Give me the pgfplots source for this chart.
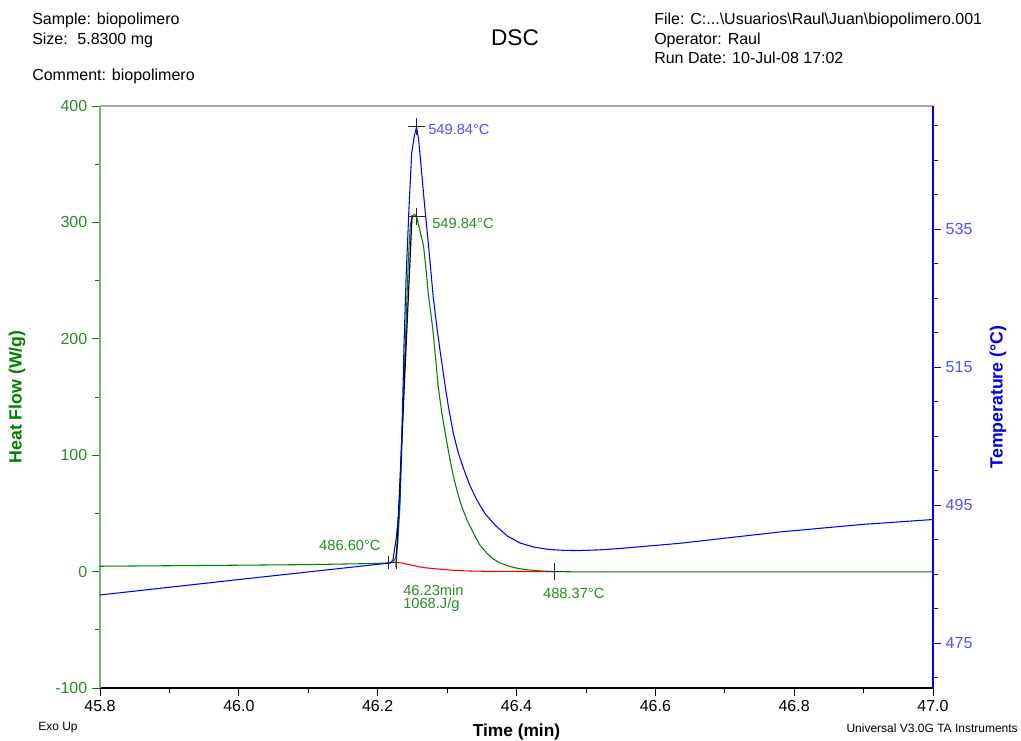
\documentclass[border=0pt]{standalone}
\usepackage{pgfplots}
\pgfplotsset{compat=1.18}
\usepackage{fontspec}
\setmainfont{Liberation Sans}
\definecolor{hfgreen}{RGB}{0,128,0}
\definecolor{hftext}{RGB}{40,140,40}
\definecolor{axgreen}{RGB}{120,180,120}
\definecolor{tblue}{RGB}{0,0,255}
\definecolor{tblight}{RGB}{80,80,255}
\definecolor{axblue}{RGB}{0,0,225}
\definecolor{crossc}{RGB}{40,40,40}
\newcommand{\fs}[1]{\fontsize{#1}{1.2\dimexpr#1pt\relax}\selectfont}
\begin{document}
\begin{tikzpicture}
\useasboundingbox (0,0) rectangle (765.75pt,555pt);
% header
\node[anchor=west, inner sep=0pt, font=\fs{12}] at (24pt,540pt) {Sample: biopolimero};
\node[anchor=west, inner sep=0pt, font=\fs{12}] at (24pt,525pt) {Size:\hspace{0.6em}5.8300 mg};
\node[anchor=west, inner sep=0pt, font=\fs{12}] at (24pt,498pt) {Comment: biopolimero};
\node[anchor=center, inner sep=0pt, font=\fs{17}] at (386.25pt,526.5pt) {DSC};
\node[anchor=west, inner sep=0pt, font=\fs{12}] at (490.5pt,540pt) {File: C:...\textbackslash Usuarios\textbackslash Raul\textbackslash Juan\textbackslash biopolimero.001};
\node[anchor=west, inner sep=0pt, font=\fs{12}] at (490.5pt,525pt) {Operator: Raul};
\node[anchor=west, inner sep=0pt, font=\fs{12}] at (490.5pt,511.5pt) {Run Date: 10-Jul-08 17:02};
% footer
\node[anchor=west, inner sep=0pt, font=\fs{9}] at (28.5pt,9pt) {Exo Up};
\node[anchor=east, inner sep=0pt, font=\fs{9}] at (763.5pt,9pt) {Universal V3.0G TA Instruments};

\begin{axis}[
  at={(75pt,39pt)}, anchor=south west,
  width=624.75pt, height=436.5pt, scale only axis,
  xmin=45.8, xmax=47.0, ymin=-100, ymax=400,
  axis x line*=bottom, axis y line*=left,
  tick align=outside,
  major tick length=6pt, minor tick length=3.5pt,
  xtick={45.8,46.0,46.2,46.4,46.6,46.8,47.0},
  minor xtick={45.9,46.1,46.3,46.5,46.7,46.9},
  ytick={-100,0,100,200,300,400},
  minor ytick={-50,50,150,250,350},
  x axis line style={black, line width=0.8pt},
  y axis line style={draw=axgreen, line width=1pt},
  xtick style={black, line width=0.6pt},
  ytick style={hfgreen, line width=0.6pt},
  /pgf/number format/assume math mode=true,
  xticklabel style={black, font=\fs{12}, /pgf/number format/.cd, fixed, fixed zerofill, precision=1},
  yticklabel style={hftext, font=\fs{12}},
  xlabel={Time (min)},
  xlabel style={at={(axis description cs:0.5,-0.0756)}, anchor=center, font=\bfseries\fs{13}, black},
  ylabel={Heat Flow (W/g)},
  ylabel style={at={(axis description cs:-0.0996,0.5)}, anchor=center, font=\bfseries\fs{13.3}, hfgreen},
  clip=false,
]
\draw[gray!70, line width=1pt] (rel axis cs:0,1) -- (rel axis cs:1,1);
% heat flow
\addplot[hfgreen, line width=0.8pt] coordinates {
(45.80,4.6) (46.00,5.5) (46.10,6.0) (46.20,7.0) (46.215,7.5) (46.222,7.8)
(46.226,12) (46.229,25) (46.232,55) (46.235,110) (46.238,165) (46.241,215)
(46.244,265) (46.247,298) (46.250,305) (46.253,307) (46.256,305) (46.260,295)
(46.266,280) (46.270,258) (46.273,238) (46.277,220) (46.280,205) (46.284,180)
(46.287,160) (46.292,138) (46.297,120) (46.303,100) (46.309,82) (46.315,68)
(46.321,56) (46.329,44) (46.338,33) (46.347,23) (46.357,16) (46.366,11)
(46.376,7.5) (46.388,4.8) (46.400,3) (46.415,1.6) (46.434,0.6)
(46.455,0) (46.50,-0.3) (47.00,-0.3)
};
% integration baseline
\addplot[red, line width=0.8pt] coordinates {
(46.226,7.8) (46.235,7.4) (46.245,6.0) (46.253,5.0) (46.261,4.0) (46.270,3.2)
(46.278,2.7) (46.295,1.8) (46.310,1.1) (46.328,0.6) (46.36,0.2) (46.455,0)
};
% onset tangent
\addplot[black, line width=0.9pt] coordinates {(46.2265,4) (46.2495,306)};
\addplot[crossc, line width=0.75pt, mark=|, mark size=5pt, mark options={crossc, line width=0.75pt}] coordinates {(46.215,7.6) (46.227,7.6)};
% crosses
\addplot[only marks, mark=+, mark size=6.5pt, mark options={crossc, line width=0.75pt}] coordinates {(46.256,305) (46.455,0)};
% annotations
\node[anchor=west, inner sep=0pt, font=\fs{11}, hftext] at (axis cs:46.2783,299.3) {549.84°C};
\node[anchor=center, inner sep=0pt, font=\fs{11}, hftext] at (axis cs:46.160,22.7) {486.60°C};
\node[anchor=west, inner sep=0pt, font=\fs{11}, hftext] at (axis cs:46.2365,-16) {46.23min};
\node[anchor=west, inner sep=0pt, font=\fs{11}, hftext] at (axis cs:46.2365,-28.7) {1068.J/g};
\node[anchor=west, inner sep=0pt, font=\fs{11}, hftext] at (axis cs:46.438,-18.6) {488.37°C};
\node[anchor=west, inner sep=0pt, font=\fs{11}, tblight] at (axis cs:46.2725,380) {549.84°C};
\end{axis}

\begin{axis}[
  at={(75pt,39pt)}, anchor=south west,
  width=624.75pt, height=436.5pt, scale only axis,
  xmin=45.8, xmax=47.0, ymin=468.48, ymax=552.83,
  axis x line=none, axis y line*=right,
  tick align=outside,
  major tick length=6pt, minor tick length=3.5pt,
  ytick={475,495,515,535},
  minor ytick={470,480,485,490,500,505,510,520,525,530,540,545,550},
  y axis line style={draw=axblue, line width=1pt},
  ytick style={axblue, line width=0.6pt},
  /pgf/number format/assume math mode=true,
  yticklabel style={tblight, font=\fs{12}},
  ylabel={Temperature (°C)},
  ylabel style={at={(axis description cs:1.078,0.5)}, anchor=center, font=\bfseries\fs{13.3}, axblue},
  clip=false,
]
\addplot[tblue, line width=0.8pt] coordinates {
(45.80,481.96) (46.00,484.2) (46.10,485.3) (46.218,486.6) (46.222,487.0)
(46.227,490.4) (46.232,495.7) (46.236,509.7) (46.238,518.4) (46.241,528.1)
(46.245,537.8) (46.249,546.0) (46.253,548.6) (46.256,549.8) (46.259,548.0)
(46.263,543.6) (46.268,538.0) (46.273,532.9) (46.280,525.2) (46.285,521.0)
(46.290,517.3) (46.297,512.4) (46.302,509.2) (46.309,505.4) (46.316,502.6)
(46.324,500.2) (46.333,497.8) (46.343,495.7) (46.355,493.7) (46.371,491.9)
(46.387,490.5) (46.405,489.5) (46.425,488.9) (46.448,488.55) (46.47,488.42)
(46.491,488.4) (46.52,488.5) (46.549,488.7) (46.635,489.45) (46.780,491.1)
(46.90,492.2) (47.00,492.9)
};
\addplot[only marks, mark=+, mark size=6.5pt, mark options={crossc, line width=0.75pt}] coordinates {(46.256,549.84)};
\end{axis}
\end{tikzpicture}
\end{document}
